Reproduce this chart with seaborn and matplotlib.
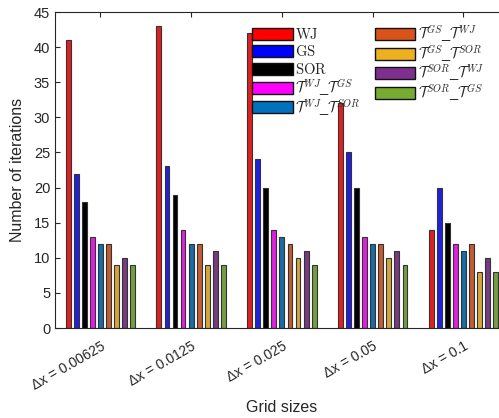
import matplotlib
matplotlib.use("Agg")
import matplotlib.pyplot as plt
import seaborn as sns
import pandas as pd
from matplotlib.patches import Rectangle
from matplotlib.legend_handler import HandlerPatch

grid_sizes = ["Δx = 0.00625", "Δx = 0.0125", "Δx = 0.025", "Δx = 0.05", "Δx = 0.1"]
methods = ["WJ", "GS", "SOR", "WJ-GS", "WJ-SOR", "GS-WJ", "GS-SOR", "SOR-WJ", "SOR-GS"]
legend_labels = [
    r"$\mathrm{WJ}$", r"$\mathrm{GS}$", r"$\mathrm{SOR}$",
    r"$\mathcal{T}^{WJ}$_$\mathcal{T}^{GS}$", r"$\mathcal{T}^{WJ}$_$\mathcal{T}^{SOR}$",
    r"$\mathcal{T}^{GS}$_$\mathcal{T}^{WJ}$", r"$\mathcal{T}^{GS}$_$\mathcal{T}^{SOR}$",
    r"$\mathcal{T}^{SOR}$_$\mathcal{T}^{WJ}$", r"$\mathcal{T}^{SOR}$_$\mathcal{T}^{GS}$",
]
colors = ["#FF0000", "#0000FF", "#000000", "#FF00FF", "#0072BD",
          "#D95319", "#EDB120", "#7E2F8E", "#77AC30"]

wj = [41, 43, 42, 32, 14]
gs = [22, 23, 24, 25, 20]
sor = [18, 19, 20, 20, 15]
wj_gs = [13, 14, 14, 13, 12]
wj_sor = [12, 12, 13, 12, 11]
gs_wj = [12, 12, 12, 12, 12]
gs_sor = [9, 9, 10, 10, 8]
sor_wj = [10, 11, 11, 11, 10]
sor_gs = [9, 9, 9, 9, 8]

series = [wj, gs, sor, wj_gs, wj_sor, gs_wj, gs_sor, sor_wj, sor_gs]
rows = []
for m, vals in zip(methods, series):
    for g, v in zip(grid_sizes, vals):
        rows.append({"grid": g, "method": m, "iters": v})
df = pd.DataFrame(rows)

sns.set_style("ticks")
plt.rcParams["font.family"] = ["Liberation Sans", "DejaVu Sans"]
plt.rcParams["mathtext.fontset"] = "cm"

fig = plt.figure(figsize=(4.99, 4.18), dpi=100)
ax = fig.add_axes([55.0 / 499, 90.0 / 418, 453.8 / 499, 316.0 / 418])

sns.barplot(data=df, x="grid", y="iters", hue="method", order=grid_sizes,
            hue_order=methods, palette=colors, width=0.8, gap=0.4,
            edgecolor="#333333", linewidth=0.8, legend=False, ax=ax)

ax.set_xlim(-0.5, 4.5)
ax.set_ylim(0, 45)
ax.set_yticks(range(0, 46, 5))
ax.set_xlabel("Grid sizes", fontsize=11.5, color="#262626", va="center")
ax.xaxis.set_label_coords(0.5, (328 - 408) / 316.0)
ax.set_ylabel("Number of iterations", fontsize=11.5, color="#262626", labelpad=6)
ax.tick_params(direction="in", length=3.5, width=0.8, top=True, right=True,
               colors="#262626", labelsize=10.5)
ax.tick_params(axis="x", pad=8, labelsize=10)
plt.setp(ax.get_xticklabels(), rotation=30, ha="right", rotation_mode="anchor")
for s in ax.spines.values():
    s.set_visible(True)
    s.set_color("#262626")
    s.set_linewidth(0.8)


def swatch(legend, orig_handle, xdescent, ydescent, width, height, fontsize):
    # fixed-height swatch, vertically centred on the capital letters of its label
    h = 0.82 * fontsize
    return Rectangle((-xdescent, 0.34 * fontsize - h / 2.0), width, h)


handles = [Rectangle((0, 0), 1, 1, facecolor=c, edgecolor="#111111", linewidth=1.0)
           for c in colors]
fig.legend(handles, legend_labels, ncol=2, loc="upper left",
           bbox_to_anchor=(252.0 / 499, 1 - 23.0 / 418), frameon=False,
           fontsize=10.5, handlelength=2.8, handleheight=1.6, handletextpad=0.15,
           labelspacing=-0.09, columnspacing=0.98, borderpad=0.0, borderaxespad=0.0,
           handler_map={Rectangle: HandlerPatch(patch_func=swatch)})

fig.savefig("out.png", dpi=100)
